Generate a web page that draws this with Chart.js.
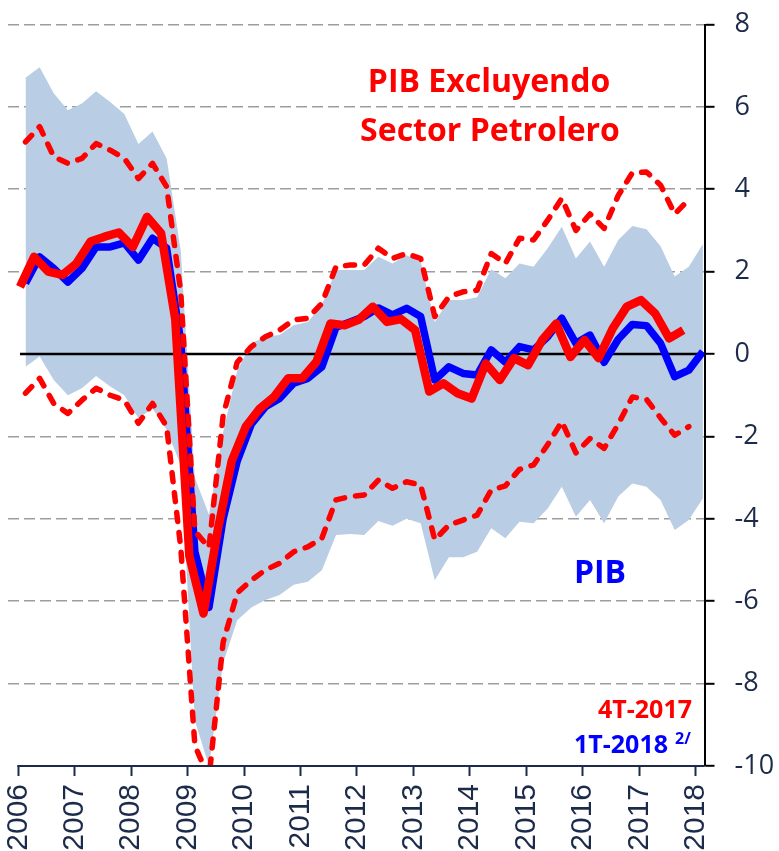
<!DOCTYPE html>
<html><head><meta charset="utf-8">
<script src="https://cdn.jsdelivr.net/npm/chart.js@4/dist/chart.umd.min.js"></script>
<style>html,body{margin:0;padding:0;background:#fff}canvas{display:block}</style>
</head><body>
<canvas id="c" width="779" height="851"></canvas>
<script>
// ---------- data ----------
const YEARS = [2006,2007,2008,2009,2010,2011,2012,2013,2014,2015,2016,2017,2018];
const Y_TICKS = [-10,-8,-6,-4,-2,0,2,4,6,8];
// quarters 1T-2006 ... 1T-2018
const QUARTERS = YEARS.flatMap(y => ['1T','2T','3T','4T'].map(q => q + '-' + y)).slice(0, 49);

// PIB (1T-2018), blue solid
const PIB = [1.72,2.36,2.08,1.75,2.08,2.6,2.6,2.7,2.28,2.81,2.57,0.3,-4.8,-6.15,-4.0,-2.6,
  -1.7,-1.28,-1.08,-0.71,-0.59,-0.31,0.65,0.78,0.91,1.12,0.95,1.11,0.91,-0.63,-0.31,-0.47,
  -0.51,0.1,-0.2,0.18,0.1,0.42,0.87,0.26,0.46,-0.2,0.36,0.72,0.69,0.26,-0.55,-0.39,0.06];
// PIB band (shaded)
const PIB_UPPER = [6.71,6.96,6.33,5.92,6.08,6.38,6.12,5.83,5.1,5.4,4.75,2.5,-3.0,-3.9,-1.9,-0.4,
  0.26,0.42,0.46,0.7,0.78,1.19,2.04,2.04,2.04,2.36,2.2,2.4,2.24,0.78,1.31,1.31,
  1.38,2.06,1.84,2.2,2.12,2.57,3.09,2.32,2.73,2.12,2.77,3.11,3.03,2.62,1.88,2.12,2.67];
const PIB_LOWER = [-0.31,-0.06,-0.63,-1.0,-0.83,-0.53,-0.79,-1.0,-1.56,-1.32,-1.84,-2.7,-8.9,-10.0,-7.5,-6.46,
  -6.15,-5.97,-5.85,-5.6,-5.53,-5.25,-4.39,-4.37,-4.39,-4.05,-4.17,-4.0,-4.11,-5.49,-4.93,-4.93,
  -4.8,-4.23,-4.47,-4.07,-4.11,-3.75,-3.22,-3.95,-3.54,-4.11,-3.46,-3.14,-3.22,-3.54,-4.27,-4.03,-3.5];
// PIB excluyendo sector petrolero (4T-2017), red solid
const PIB_NO_PETROL = [1.63,2.36,2.0,1.92,2.2,2.73,2.85,2.95,2.6,3.33,2.93,0.85,-4.9,-6.3,-4.3,-2.6,
  -1.76,-1.32,-1.04,-0.59,-0.59,-0.19,0.74,0.7,0.83,1.15,0.78,0.85,0.58,-0.91,-0.71,-0.95,
  -1.08,-0.23,-0.63,-0.1,-0.27,0.34,0.74,-0.07,0.34,-0.1,0.62,1.15,1.31,0.99,0.38,0.58];
// red dashed band
const NO_PETROL_UPPER = [5.15,5.52,4.79,4.63,4.75,5.11,4.95,4.75,4.26,4.63,4.06,1.5,-4.3,-4.7,-1.5,-0.2,
  0.18,0.42,0.58,0.83,0.87,1.23,2.12,2.16,2.16,2.57,2.32,2.44,2.32,0.91,1.39,1.51,
  1.55,2.44,2.2,2.81,2.77,3.25,3.78,3.0,3.4,3.05,3.85,4.4,4.42,4.1,3.4,3.75];
const NO_PETROL_LOWER = [-0.95,-0.59,-1.2,-1.44,-1.12,-0.83,-1.0,-1.12,-1.68,-1.2,-1.76,-4.7,-9.5,-10.3,-7.0,-5.8,
  -5.49,-5.24,-5.08,-4.8,-4.68,-4.47,-3.54,-3.46,-3.42,-3.06,-3.26,-3.1,-3.18,-4.51,-4.15,-4.03,
  -3.91,-3.3,-3.2,-2.8,-2.69,-2.2,-1.64,-2.4,-2.05,-2.29,-1.7,-1.04,-1.1,-1.55,-1.97,-1.76];

// ---------- layout / style ----------
const NAVY = '#1d2b4a';
const RED = '#ff0000', BLUE = '#0000ff', BAND = '#b9cde5';
const XMIN = 2005.8175, XMAX = 2018.156;
const RED_OFFSET = 0.03, BLUE_OFFSET = 0.128;
const qx = (i, off) => 2006 + i / 4 + off;
const pts = (arr, off) => arr.map((v, i) => ({x: qx(i, off), y: v}));
const noPad = s => { s.paddingTop = 0; s.paddingBottom = 0; s.paddingLeft = 0; s.paddingRight = 0; };

const overlay = {
  id: 'overlay',
  afterDraw(chart) {
    const {ctx, chartArea, scales: {x}} = chart;
    ctx.save();
    ctx.strokeStyle = NAVY; ctx.lineWidth = 2;
    ctx.beginPath();
    ctx.moveTo(x.getPixelForValue(YEARS[0]) - 1, chartArea.bottom);
    ctx.lineTo(chartArea.right, chartArea.bottom);
    ctx.stroke();
    ctx.textBaseline = 'alphabetic';
    ctx.fillStyle = RED; ctx.textAlign = 'center';
    ctx.font = "bold 32px 'Open Sans', sans-serif";
    ctx.fillText('PIB Excluyendo', 489, 92);
    ctx.fillText('Sector Petrolero', 490, 141);
    ctx.fillStyle = BLUE;
    ctx.fillText('PIB', 600, 583);
    ctx.textAlign = 'right';
    ctx.font = "bold 25px 'Open Sans', sans-serif";
    ctx.fillStyle = RED;
    ctx.fillText('4T-2017', 692, 718);
    ctx.fillStyle = BLUE;
    ctx.fillText('1T-2018', 668, 753);
    ctx.textAlign = 'left';
    ctx.font = "bold 16px 'Open Sans', sans-serif";
    ctx.fillText('2/', 675, 744);
    ctx.restore();
  }
};

new Chart(document.getElementById('c'), {
  type: 'line',
  data: {
    datasets: [
      {label: 'PIB banda sup', data: pts(PIB_UPPER, BLUE_OFFSET), borderWidth: 0, pointRadius: 0,
       backgroundColor: BAND, fill: '+1', order: 10},
      {label: 'PIB banda inf', data: pts(PIB_LOWER, BLUE_OFFSET), borderWidth: 0, pointRadius: 0,
       backgroundColor: BAND, fill: false, order: 9},
      {label: 'cero', data: [{x: qx(0, RED_OFFSET), y: 0}, {x: XMAX, y: 0}], borderColor: '#000',
       borderWidth: 2.5, pointRadius: 0, fill: false, order: 8},
      {label: 'PIB 1T-2018', data: pts(PIB, BLUE_OFFSET), borderColor: BLUE, borderWidth: 7.5,
       pointRadius: 0, fill: false, borderJoinStyle: 'round', order: 7},
      {label: 'PIB excl. petrolero 4T-2017', data: pts(PIB_NO_PETROL, RED_OFFSET), borderColor: RED,
       borderWidth: 8.5, pointRadius: 0, fill: false, borderJoinStyle: 'round', order: 6},
      {label: 'sup', data: pts(NO_PETROL_UPPER, BLUE_OFFSET), borderColor: RED, borderWidth: 5.5,
       borderDash: [9, 11], borderCapStyle: 'round', borderJoinStyle: 'round', pointRadius: 0, fill: false, order: 5},
      {label: 'inf', data: pts(NO_PETROL_LOWER, BLUE_OFFSET), borderColor: RED, borderWidth: 5.5,
       borderDash: [9, 11], borderCapStyle: 'round', borderJoinStyle: 'round', pointRadius: 0, fill: false, order: 4}
    ]
  },
  options: {
    responsive: false, animation: false, devicePixelRatio: 1,
    layout: {padding: {left: 8, top: 24.5, right: 0, bottom: 0}},
    plugins: {legend: {display: false}, tooltip: {enabled: false}},
    elements: {line: {tension: 0}},
    scales: {
      x: {
        type: 'linear', min: XMIN, max: XMAX,
        afterBuildTicks: s => { s.ticks = YEARS.map(v => ({value: v})); },
        afterFit: s => { s.height = 85; noPad(s); },
        ticks: {minRotation: 90, maxRotation: 90, autoSkip: false, padding: 8, color: NAVY,
                font: {family: "'Liberation Sans', Arial, sans-serif", size: 30},
                callback: v => String(v)},
        grid: {drawOnChartArea: false, drawTicks: true, tickLength: 10, tickColor: NAVY, tickWidth: 2},
        border: {display: false}
      },
      y: {
        position: 'right', min: -10, max: 8,
        afterBuildTicks: s => { s.ticks = Y_TICKS.map(v => ({value: v})); },
        afterFit: s => { s.width = 74.5; noPad(s); },
        ticks: {padding: 20, color: NAVY, font: {family: "'Open Sans', sans-serif", size: 27},
                callback: v => String(v)},
        grid: {
          color: c => (c.tick && (c.tick.value === 0 || c.tick.value === -10)) ? 'rgba(0,0,0,0)' : '#9d9d9d',
          lineWidth: 1.6, drawTicks: true, tickLength: 10, tickColor: '#000', tickWidth: 2
        },
        border: {display: true, color: '#000', width: 2, dash: [11, 5]}
      }
    }
  },
  plugins: [overlay]
});
</script>
</body></html>
